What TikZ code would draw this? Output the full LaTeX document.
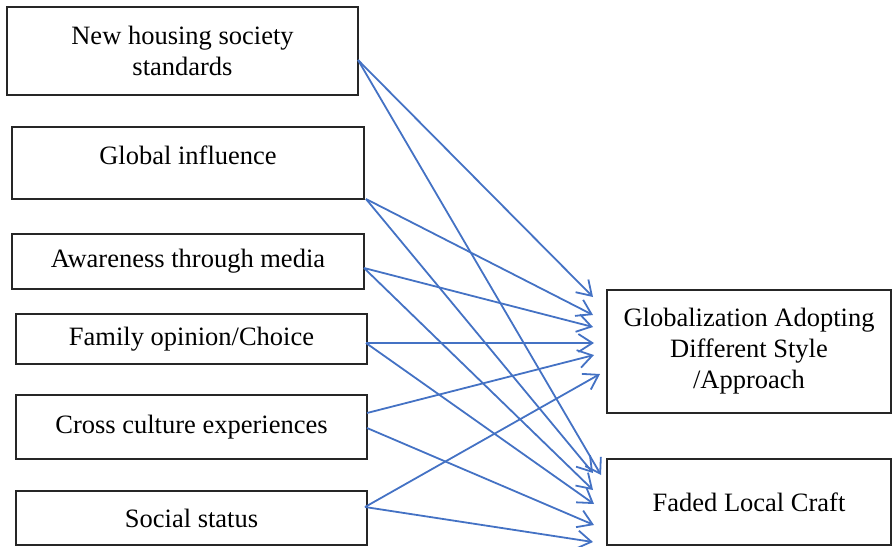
\documentclass[tikz,border=0pt]{standalone}
\usepackage{fontspec}
\setmainfont{Liberation Serif}
\usetikzlibrary{arrows.meta}
\definecolor{arrowblue}{HTML}{4472C4}
\begin{document}
\begin{tikzpicture}[x=0.5pt,y=-0.5pt,
  box/.style={draw=black!85,line width=0.7pt,rectangle,inner sep=0pt,align=center,
    font=\fontsize{13.25}{15.5}\selectfont},
  conn/.style={draw=arrowblue,line width=0.9pt,-{Straight Barb[length=7pt,width=9pt,line width=0.9pt]}}]
\useasboundingbox (0,0) rectangle (892,546);
% left boxes
\node[box,minimum width=175.5pt,minimum height=44pt] (n1) at (182.5,51) {New housing society\\standards};
\node[box,minimum width=176pt,minimum height=36pt] (n2) at (188,163) {\raisebox{8pt}{Global influence}};
\node[box,minimum width=176pt,minimum height=27.5pt] (n3) at (188,261.5) {Awareness through media};
\node[box,minimum width=175.5pt,minimum height=25pt] (n4) at (191.5,339) {Family opinion/Choice};
\node[box,minimum width=175.5pt,minimum height=32pt] (n5) at (191.5,427) {Cross culture experiences};
\node[box,minimum width=175.5pt,minimum height=27pt] (n6) at (191.5,518) {Social status};
% right boxes
\node[box,minimum width=142pt,minimum height=61.5pt] (g) at (749,351.5) {Globalization Adopting\\Different Style\\/Approach};
\node[box,minimum width=142pt,minimum height=43pt] (f) at (749,502) {Faded Local Craft};
% start points
\coordinate (s1) at (358,60);
\coordinate (s2) at (366,199);
\coordinate (s3) at (364,268);
\coordinate (s4) at (366,343);
\coordinate (s5a) at (367,413);
\coordinate (s5b) at (367,428);
\coordinate (s6) at (365,507);
% end points at Globalization
\coordinate (g1) at (593,297);
\coordinate (g2) at (593,315);
\coordinate (g3) at (593,327);
\coordinate (g4) at (594,343);
\coordinate (g5) at (594,355);
\coordinate (g6) at (600,374);
% end points at Faded
\coordinate (f1) at (601,475);
\coordinate (f2) at (593,473);
\coordinate (f3) at (593,490);
\coordinate (f4) at (594,504);
\coordinate (f5) at (594,525);
\coordinate (f6) at (593,542);
\draw[conn] (s1) -- (g1);
\draw[conn] (s1) -- (f1);
\draw[conn] (s2) -- (g2);
\draw[conn] (s2) -- (f2);
\draw[conn] (s3) -- (g3);
\draw[conn] (s3) -- (f3);
\draw[conn] (s4) -- (g4);
\draw[conn] (s4) -- (f4);
\draw[conn] (s5a) -- (g5);
\draw[conn] (s5b) -- (f5);
\draw[conn] (s6) -- (g6);
\draw[conn] (s6) -- (f6);
\end{tikzpicture}
\end{document}
